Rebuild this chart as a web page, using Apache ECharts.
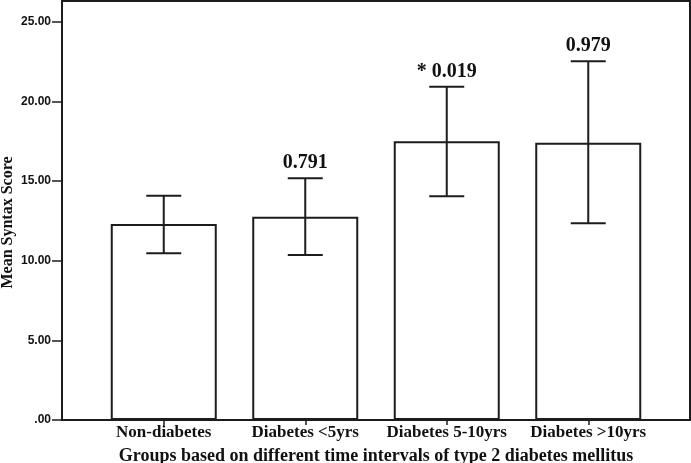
<!DOCTYPE html>
<html>
<head>
<meta charset="utf-8">
<script src="https://cdn.jsdelivr.net/npm/echarts@6/dist/echarts.min.js"></script>
<style>html,body{margin:0;padding:0;background:#fff}#c{width:691px;height:463px}</style>
</head>
<body>
<div id="c"></div>
<script>
var categories = ['Non-diabetes', 'Diabetes <5yrs', 'Diabetes 5-10yrs', 'Diabetes >10yrs'];
var means = [12.30, 12.76, 17.49, 17.41];
var ciLow = [10.46, 10.36, 14.04, 12.35];
var ciHigh = [14.08, 15.17, 20.92, 22.52];
var pLabels = ['', '0.791', '* 0.019', '0.979'];
var yTicks = [0, 5, 10, 15, 20, 25];
var yMax = 26.3;

var ink = '#1c1c1c';
var serif = '"Liberation Serif", "Times New Roman", serif';
var sans = '"Liberation Sans", Arial, sans-serif';

var chart = echarts.init(document.getElementById('c'));
chart.setOption({
  animation: false,
  backgroundColor: '#fff',
  grid: [
    {left: 62, right: 1, top: 1, bottom: 43, show: true, borderColor: ink, borderWidth: 2, backgroundColor: 'transparent', containLabel: false, outerBoundsMode: 'none'},
    {left: 93, right: 32, top: 1, bottom: 43, containLabel: false, outerBoundsMode: 'none'}
  ],
  xAxis: [
    {gridIndex: 0, type: 'category', data: categories, show: false},
    {gridIndex: 1, type: 'category', data: categories,
     name: 'Groups based on different time intervals of type 2 diabetes mellitus',
     nameLocation: 'middle', nameGap: 27,
     nameTextStyle: {fontFamily: serif, fontWeight: 'bold', fontSize: 18, color: '#111'},
     axisLine: {show: false},
     axisTick: {show: true, alignWithLabel: true, length: 5, lineStyle: {color: ink, width: 1.5}},
     axisLabel: {interval: 0, fontFamily: serif, fontWeight: 'bold', fontSize: 17, color: '#111', margin: 4}
    }
  ],
  yAxis: [
    {gridIndex: 0, type: 'value', min: 0, max: yMax,
     name: 'Mean Syntax Score', nameLocation: 'middle', nameGap: 46, nameMoveOverlap: false,
     nameTextStyle: {fontFamily: serif, fontWeight: 'bold', fontSize: 16, color: '#111', padding: [0, 24, 0, 0]},
     axisLine: {show: true, lineStyle: {color: ink, width: 2}},
     axisTick: {show: true, length: 10, customValues: yTicks, lineStyle: {color: ink, width: 1.5}},
     axisLabel: {customValues: yTicks, fontFamily: sans, fontWeight: 'bold', fontSize: 12, color: '#111', margin: 11,
       formatter: function (v) { return v === 0 ? '.00' : v.toFixed(2); }},
     splitLine: {show: false}
    },
    {gridIndex: 1, type: 'value', min: 0, max: yMax, show: false, splitLine: {show: false}}
  ],
  series: [
    {type: 'bar', xAxisIndex: 1, yAxisIndex: 1, data: means, barWidth: 106,
     itemStyle: {color: '#fff', borderColor: ink, borderWidth: 2}, silent: true},
    {type: 'custom', xAxisIndex: 1, yAxisIndex: 1, z: 5, silent: true,
     data: categories.map(function (c, i) { return [i, ciLow[i], ciHigh[i]]; }),
     renderItem: function (params, api) {
       var i = api.value(0);
       var lo = api.coord([i, api.value(1)]);
       var hi = api.coord([i, api.value(2)]);
       var hw = 17.5;
       var st = {stroke: ink, lineWidth: 2};
       var children = [
         {type: 'line', shape: {x1: lo[0], y1: lo[1], x2: hi[0], y2: hi[1]}, style: st},
         {type: 'line', shape: {x1: hi[0] - hw, y1: hi[1], x2: hi[0] + hw, y2: hi[1]}, style: st},
         {type: 'line', shape: {x1: lo[0] - hw, y1: lo[1], x2: lo[0] + hw, y2: lo[1]}, style: st}
       ];
       var t = pLabels[params.dataIndex];
       if (t) {
         children.push({type: 'text', x: hi[0], y: hi[1] - 15,
           style: {text: t, fontFamily: serif, fontWeight: 'bold', fontSize: 20, fill: '#111',
                   align: 'center', verticalAlign: 'middle'}});
       }
       return {type: 'group', children: children};
     }
    }
  ]
});
</script>
</body>
</html>
